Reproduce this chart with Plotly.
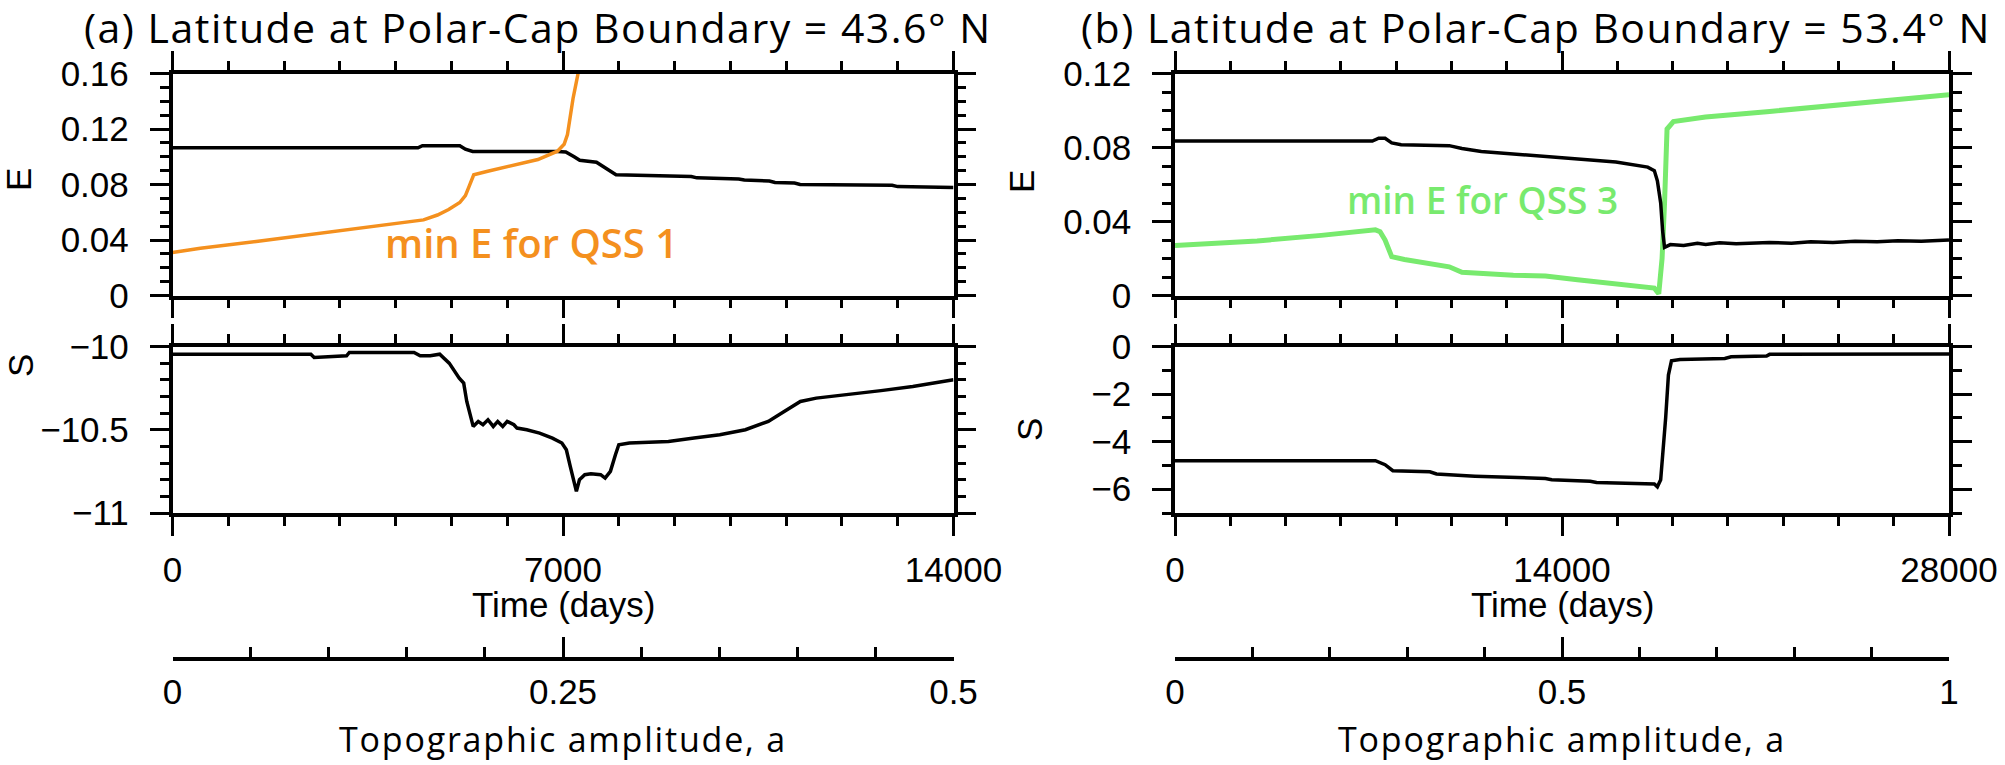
import plotly.graph_objects as go

W, H = 2005, 765

# ---------------- data ----------------
# Panel (a): time in days
a_E_t = [0, 4400, 4480, 5150, 5250, 5380, 6900, 7050, 7200, 7300, 7600, 7700, 7950, 9300, 9400,
         10150, 10250, 10700, 10800, 11150, 11250, 12900, 13000, 14000]
a_E = [0.1065, 0.1065, 0.108, 0.108, 0.1055, 0.1038, 0.1038, 0.1035, 0.1000, 0.0975, 0.0960, 0.0935,
       0.0870, 0.0858, 0.0848, 0.0840, 0.0832, 0.0825, 0.0815, 0.0810, 0.0800, 0.0795, 0.0785, 0.0778]

a_minE_t = [0, 500, 1500, 2500, 3500, 4500, 4750, 4950, 5150, 5250, 5310, 5400, 5650, 6100, 6550,
            6900, 7020, 7080, 7130, 7180, 7230, 7270]
a_minE = [0.031, 0.034, 0.039, 0.044, 0.049, 0.0545, 0.058, 0.062, 0.067, 0.072, 0.078, 0.087, 0.0895,
          0.0935, 0.098, 0.104, 0.109, 0.116, 0.13, 0.142, 0.152, 0.16]

a_S_t = [0, 2480, 2540, 3120, 3170, 4330, 4440, 4620, 4790, 4960, 5140, 5220, 5275, 5335, 5390, 5480,
         5565, 5655, 5750, 5830, 5920, 6000, 6120, 6175, 6350, 6580, 6810, 6980, 7060, 7130, 7190, 7240,
         7295, 7390, 7500, 7675, 7755, 7850, 7940, 8000, 8190, 8890, 9350, 9810, 10270, 10680, 10965,
         11255, 11540, 12120, 12700, 13270, 14000]
a_S = [-10.046, -10.046, -10.066, -10.056, -10.036, -10.036, -10.056, -10.056, -10.046, -10.10, -10.19,
       -10.22, -10.33, -10.42, -10.48, -10.45, -10.47, -10.44, -10.48, -10.45, -10.48, -10.45, -10.47,
       -10.49, -10.50, -10.52, -10.55, -10.58, -10.62, -10.72, -10.80, -10.87, -10.80, -10.77, -10.765,
       -10.77, -10.79, -10.75, -10.65, -10.59, -10.58, -10.57, -10.55, -10.53, -10.50, -10.45, -10.39,
       -10.33, -10.31, -10.29, -10.265, -10.24, -10.20]

# Panel (b)
b_E_t = [0, 7140, 7370, 7600, 7840, 8180, 9920, 10380, 11080, 12240, 13400, 14560, 15950, 17100, 17340,
         17450, 17570, 17640, 17710, 17920, 18400, 18900, 19200, 19700, 20300, 21500, 22300, 23000,
         23800, 24600, 25400, 26150, 27000, 28000]
b_E = [0.0835, 0.0835, 0.085, 0.085, 0.0825, 0.0815, 0.081, 0.0795, 0.0778, 0.0765, 0.0755, 0.074,
       0.0722, 0.0694, 0.0675, 0.062, 0.050, 0.035, 0.026, 0.0275, 0.0270, 0.0282, 0.0276, 0.0285,
       0.0280, 0.0287, 0.0283, 0.0290, 0.0287, 0.0293, 0.0290, 0.0296, 0.0293, 0.0300]

b_minE_t = [0, 2970, 5290, 7250, 7420, 7600, 7840, 8300, 9920, 10380, 12240, 13400, 14560, 15950,
            17340, 17500, 17620, 17710, 17800, 18030, 19190, 21510, 23830, 26150, 28000]
b_minE = [0.027, 0.0295, 0.0325, 0.0355, 0.0345, 0.030, 0.021, 0.0195, 0.0155, 0.0125, 0.011, 0.0105,
          0.0085, 0.0065, 0.004, 0.001, 0.020, 0.050, 0.090, 0.094, 0.0965, 0.0995, 0.103, 0.106, 0.1085]

b_S_t = [0, 7250, 7600, 7880, 9220, 9460, 10850, 13400, 13630, 15020, 15250, 16880, 17340, 17450, 17570,
         17750, 17850, 17960, 18270, 19890, 20120, 21400, 21510, 28000]
b_S = [-4.8, -4.8, -4.97, -5.22, -5.27, -5.36, -5.45, -5.55, -5.60, -5.67, -5.72, -5.74, -5.78, -5.9,
       -5.6, -3.0, -1.2, -0.6, -0.55, -0.50, -0.43, -0.40, -0.33, -0.32]

titles = ["(a) Latitude at Polar-Cap Boundary = 43.6° N", "(b) Latitude at Polar-Cap Boundary = 53.4° N"]
notes = ["min E for QSS 1", "min E for QSS 3"]

ORANGE = "#F4901E"
GREEN = "#78EA6E"

# ---------------- layout geometry (pixels) ----------------
def px_x(p):
    return p / W

def px_y(p):
    return 1 - p / H

LX = [px_x(172.5), px_x(953.5)]
RX = [px_x(1175), px_x(1949)]
E_DOM = [px_y(295.5), px_y(73.5)]
S_DOM = [px_y(513), px_y(346.5)]
A_DOM = [px_y(657), px_y(656)]

TICKFONT = dict(family="Liberation Sans", size=35, color="black")
TEXTFONT = dict(family="Open Sans", size=41, color="black")

def xcfg(dom, rng, major, minor, labels, anchor):
    return dict(domain=dom, range=rng, anchor=anchor, showline=True, linewidth=3.5, linecolor="black",
                mirror="allticks", ticks="outside", ticklen=19, tickwidth=3, tickcolor="black",
                tickmode="linear", tick0=0, dtick=major, tickformat="d", automargin=False,
                minor=dict(ticks="outside", ticklen=9, tickwidth=2.5, tickcolor="black", dtick=minor,
                           tick0=0, showgrid=False),
                showticklabels=labels, showgrid=False, zeroline=False, tickfont=TICKFONT,
                ticklabelstandoff=4)

def ycfg(dom, rng, major, minor, anchor, t0=0):
    return dict(domain=dom, range=rng, anchor=anchor, showline=True, linewidth=3.5, linecolor="black",
                mirror="allticks", ticks="outside", ticklen=19, tickwidth=3, tickcolor="black",
                tickmode="linear", tick0=t0, dtick=major, automargin=False,
                minor=dict(ticks="outside", ticklen=9, tickwidth=2.5, tickcolor="black", dtick=minor,
                           tick0=t0, showgrid=False),
                showgrid=False, zeroline=False, tickfont=TICKFONT, ticklabelstandoff=14)

def acfg(dom, rng, major, minor, anchor):
    return dict(domain=dom, range=rng, anchor=anchor, showline=True, linewidth=3.5, linecolor="black",
                mirror=False, ticks="inside", ticklen=20, tickwidth=3, tickcolor="black",
                tickmode="linear", tick0=0, dtick=major, automargin=False,
                minor=dict(ticks="inside", ticklen=10, tickwidth=2.5, tickcolor="black", dtick=minor,
                           tick0=0, showgrid=False),
                showgrid=False, zeroline=False, tickfont=TICKFONT, ticklabelstandoff=1, side="bottom")

fig = go.Figure()

def line(x, y, xa, ya, color, width=3.5):
    fig.add_trace(go.Scatter(x=x, y=y, xaxis=xa, yaxis=ya, mode="lines",
                             line=dict(color=color, width=width), showlegend=False, hoverinfo="skip"))

line(a_E_t, a_E, "x", "y", "black")
line(a_minE_t, a_minE, "x", "y", ORANGE)
line(a_S_t, a_S, "x2", "y2", "black")
line(b_minE_t, b_minE, "x3", "y3", GREEN, 5)
line(b_E_t, b_E, "x3", "y3", "black")
line(b_S_t, b_S, "x4", "y4", "black")

# invisible anchors for the topographic-amplitude axes
fig.add_trace(go.Scatter(x=[0, 0.5], y=[0, 0], xaxis="x5", yaxis="y5", mode="markers",
                         marker=dict(opacity=0), showlegend=False, hoverinfo="skip"))
fig.add_trace(go.Scatter(x=[0, 1], y=[0, 0], xaxis="x6", yaxis="y6", mode="markers",
                         marker=dict(opacity=0), showlegend=False, hoverinfo="skip"))

hidden_y = lambda anchor: dict(domain=A_DOM, range=[0, 1], anchor=anchor, visible=False,
                               automargin=False)

fig.update_layout(
    width=W, height=H, margin=dict(l=0, r=0, t=0, b=0, autoexpand=False),
    paper_bgcolor="white", plot_bgcolor="white",
    font=dict(family="Liberation Sans", color="black"),
    xaxis=xcfg(LX, [0, 14000], 7000, 1000, False, "y"),
    yaxis=ycfg(E_DOM, [0, 0.16], 0.04, 0.01, "x"),
    xaxis2=xcfg(LX, [0, 14000], 7000, 1000, True, "y2"),
    yaxis2=ycfg(S_DOM, [-11, -10], 0.5, 0.1, "x2", t0=-11),
    xaxis3=xcfg(RX, [0, 28000], 14000, 2000, False, "y3"),
    yaxis3=ycfg(E_DOM, [0, 0.12], 0.04, 0.01, "x3"),
    xaxis4=xcfg(RX, [0, 28000], 14000, 2000, True, "y4"),
    yaxis4=ycfg(S_DOM, [-7, 0], 2, 1, "x4"),
    xaxis5=acfg(LX, [0, 0.5], 0.25, 0.05, "y5"),
    yaxis5=hidden_y("x5"),
    xaxis6=acfg(RX, [0, 1], 0.5, 0.1, "y6"),
    yaxis6=hidden_y("x6"),
)

def ann(text, x, y, font, angle=0, xanchor="center", pad=1):
    fig.add_annotation(text=text, x=px_x(x), y=px_y(y), xref="paper", yref="paper",
                       xanchor=xanchor, yanchor="middle", showarrow=False, font=font, textangle=angle,
                       borderpad=pad)

def spaced(text, sp):
    return '<span style="letter-spacing:%spx">%s</span>' % (sp, text)

ann(spaced(titles[0], 1.5), 538, 27, TEXTFONT)
ann(spaced(titles[1], 1.5), 1536, 27, TEXTFONT)

axfont = dict(family="Liberation Sans", size=35, color="black")
ann("Time (days)", 563, 604, axfont)
ann("Time (days)", 1562, 604, axfont)
topo_font = dict(family="Open Sans", size=34, color="black")
ann(spaced("Topographic amplitude, a", 1.8), 563, 739, topo_font, pad=0)
ann(spaced("Topographic amplitude, a", 1.8), 1562, 739, topo_font, pad=0)

ann("E", 18, 180, axfont, angle=-90)
ann("S", 20, 366, axfont, angle=-90)
ann("E", 1021, 182, axfont, angle=-90)
ann("S", 1029, 430, axfont, angle=-90)

ann(notes[0], 531, 242, dict(family="Open Sans", size=40, color=ORANGE, weight=600))
ann(notes[1], 1482, 200, dict(family="Open Sans", size=37, color=GREEN, weight=600))

fig.write_html("out.html")
